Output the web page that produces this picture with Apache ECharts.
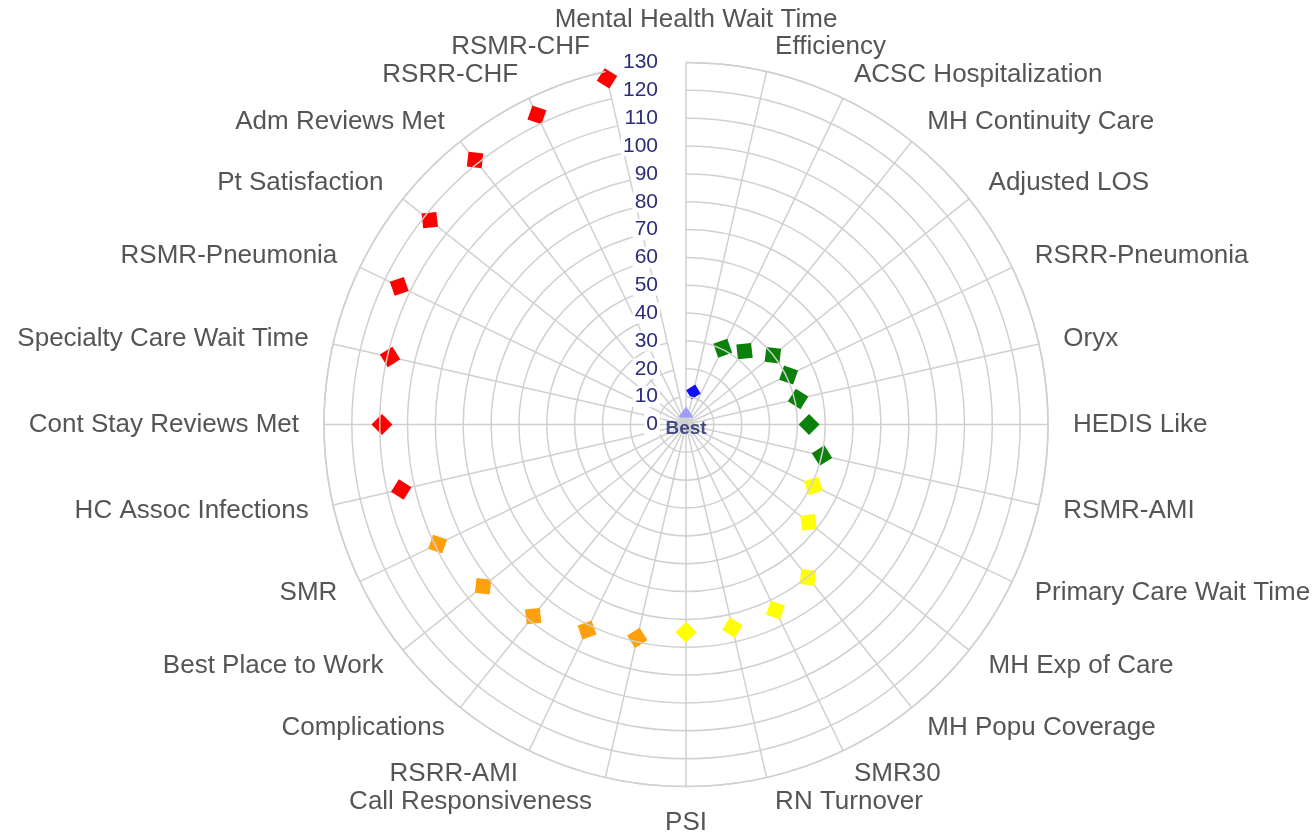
<!DOCTYPE html>
<html>
<head>
<meta charset="utf-8">
<script src="https://cdn.jsdelivr.net/npm/echarts@6/dist/echarts.min.js"></script>
<style>
  html, body { margin: 0; padding: 0; background: #fff; }
  #main { width: 1312px; height: 838px; }
</style>
</head>
<body>
<div id="main"></div>
<script>
// categories clockwise from the top
var categories = [
  'Mental Health Wait Time', 'Efficiency', 'ACSC Hospitalization', 'MH Continuity Care',
  'Adjusted LOS', 'RSRR-Pneumonia', 'Oryx', 'HEDIS Like', 'RSMR-AMI',
  'Primary Care Wait Time', 'MH Exp of Care', 'MH Popu Coverage', 'SMR30', 'RN Turnover',
  'PSI', 'Call Responsiveness', 'RSRR-AMI', 'Complications', 'Best Place to Work', 'SMR',
  'HC Assoc Infections', 'Cont Stay Reviews Met', 'Specialty Care Wait Time', 'RSMR-Pneumonia',
  'Pt Satisfaction', 'Adm Reviews Met', 'RSRR-CHF', 'RSMR-CHF'
];

// score per category (null = no diamond)
var scores = [
  null, 12, 30.4, 33.7, 39.9, 40.9, 41.3, 44.2, 50.1,
  50.8, 56.3, 70.2, 74.0, 74.8, 74.6,
  78.6, 81.9, 88.0, 93.2, 99.0,
  104.9, 109.2, 109.0, 114.3, 117.7, 121.5, 123.4, 127.5
];

// colour band of each category
var bands = [
  '', 'blue', 'green', 'green', 'green', 'green', 'green', 'green', 'green',
  'yellow', 'yellow', 'yellow', 'yellow', 'yellow', 'yellow',
  'orange', 'orange', 'orange', 'orange', 'orange',
  'red', 'red', 'red', 'red', 'red', 'red', 'red', 'red'
];

var bestMarker = [[4.5, 0]];
var bestLabel = [[0, 0, 'Best']];

var RADIUS_MAX = 130;
var RADIUS_STEP = 10;
var LABEL_SIZE = 26;
var LABEL_FAMILY = '"Liberation Sans", Arial, sans-serif';

var bandColors = {
  blue: '#1010ff',
  green: '#0b800b',
  yellow: '#ffff00',
  orange: '#ff9f0a',
  red: '#ff0000'
};
var bandOrder = ['blue', 'green', 'yellow', 'orange', 'red'];

// small label nudges so the crowded top / bottom labels sit like the original
// side: snap the label's left or right edge to the anchor; dx/dy: extra pixels
var labelNudge = {
  0: { dx: 10, dy: -17 },
  1: { side: 'left', dx: 3 },
  13: { side: 'left', dx: 3 },
  14: { dy: 11 },
  15: { side: 'right', dx: -8 },
  27: { side: 'right', dx: -10 }
};

var measureCtx = document.createElement('canvas').getContext('2d');
measureCtx.font = LABEL_SIZE + 'px ' + LABEL_FAMILY;

function angleLabelItem(name, i) {
  var nudge = labelNudge[i];
  if (!nudge) return name;
  var theta = i * 2 * Math.PI / categories.length;
  var ux = Math.sin(theta), uy = -Math.cos(theta);
  var align = Math.abs(ux) < 0.3 ? 'center' : (ux > 0 ? 'left' : 'right');
  var valign = Math.abs(uy) < 0.3 ? 'middle' : (uy > 0 ? 'top' : 'bottom');
  var w = measureCtx.measureText(name).width;
  var sx = (nudge.dx || 0);
  if (nudge.side === 'left') sx += w / 2;
  if (nudge.side === 'right') sx -= w / 2;
  var sy = nudge.dy || 0;
  var pad = [0, 0, 0, 0]; // top right bottom left
  if (align === 'center') { if (sx > 0) pad[3] = 2 * sx; else pad[1] = -2 * sx; }
  else if (align === 'left') { if (sx > 0) pad[3] = sx; }
  else { if (sx < 0) pad[1] = -sx; }
  if (valign === 'middle') { if (sy > 0) pad[0] = 2 * sy; else pad[2] = -2 * sy; }
  else if (valign === 'top') { if (sy > 0) pad[0] = sy; }
  else { if (sy < 0) pad[2] = -sy; }
  return { value: name, textStyle: { padding: pad } };
}

function bandSeries(band) {
  var pts = [];
  for (var i = 0; i < categories.length; i++) {
    if (bands[i] === band && scores[i] != null) pts.push([scores[i], i]);
  }
  return {
    type: 'scatter',
    name: band,
    coordinateSystem: 'polar',
    symbol: 'diamond',
    symbolSize: band === 'blue' ? 15 : 21,
    symbolRotate: function (val) { return -val[1] * 360 / categories.length; },
    itemStyle: { color: bandColors[band], opacity: 1 },
    data: pts,
    z: 3
  };
}

var series = bandOrder.map(bandSeries);
series.push({
  type: 'scatter',
  coordinateSystem: 'polar',
  symbol: 'triangle',
  symbolSize: [15, 11],
  itemStyle: { color: '#8f8fff', opacity: 0.85 },
  data: bestMarker,
  z: 3
});
series.push({
  type: 'scatter',
  coordinateSystem: 'polar',
  symbolSize: 0,
  data: bestLabel,
  label: {
    show: true,
    position: 'inside',
    offset: [0, 4],
    formatter: function (p) { return p.data[2]; },
    fontFamily: LABEL_FAMILY,
    fontWeight: 'bold',
    fontSize: 19,
    color: '#1e2668'
  },
  z: 4
});

var option = {
  animation: false,
  polar: {
    center: [686, 424.5],
    radius: 362
  },
  angleAxis: {
    type: 'category',
    data: categories.map(angleLabelItem),
    startAngle: 90,
    clockwise: true,
    boundaryGap: false,
    axisLine: { lineStyle: { color: '#d0d0d0', width: 1.5 } },
    axisTick: { show: false },
    axisLabel: {
      interval: 0,
      margin: 25,
      fontSize: LABEL_SIZE,
      lineHeight: 1,
      color: '#555',
      fontFamily: LABEL_FAMILY
    },
    splitLine: { show: true, interval: 0, lineStyle: { color: '#d0d0d0', width: 1.5 } }
  },
  radiusAxis: {
    type: 'value',
    min: 0,
    max: RADIUS_MAX,
    interval: RADIUS_STEP,
    axisLine: { show: false },
    axisTick: { show: false },
    axisLabel: {
      margin: 26,
      fontSize: 21,
      color: '#2c2c7a',
      fontFamily: LABEL_FAMILY,
      backgroundColor: '#fff',
      padding: [0, 2]
    },
    splitLine: { show: true, lineStyle: { color: '#d0d0d0', width: 1.5 } },
    z: 5
  },
  series: series
};

var chart = echarts.init(document.getElementById('main'));
chart.setOption(option);
</script>
</body>
</html>
